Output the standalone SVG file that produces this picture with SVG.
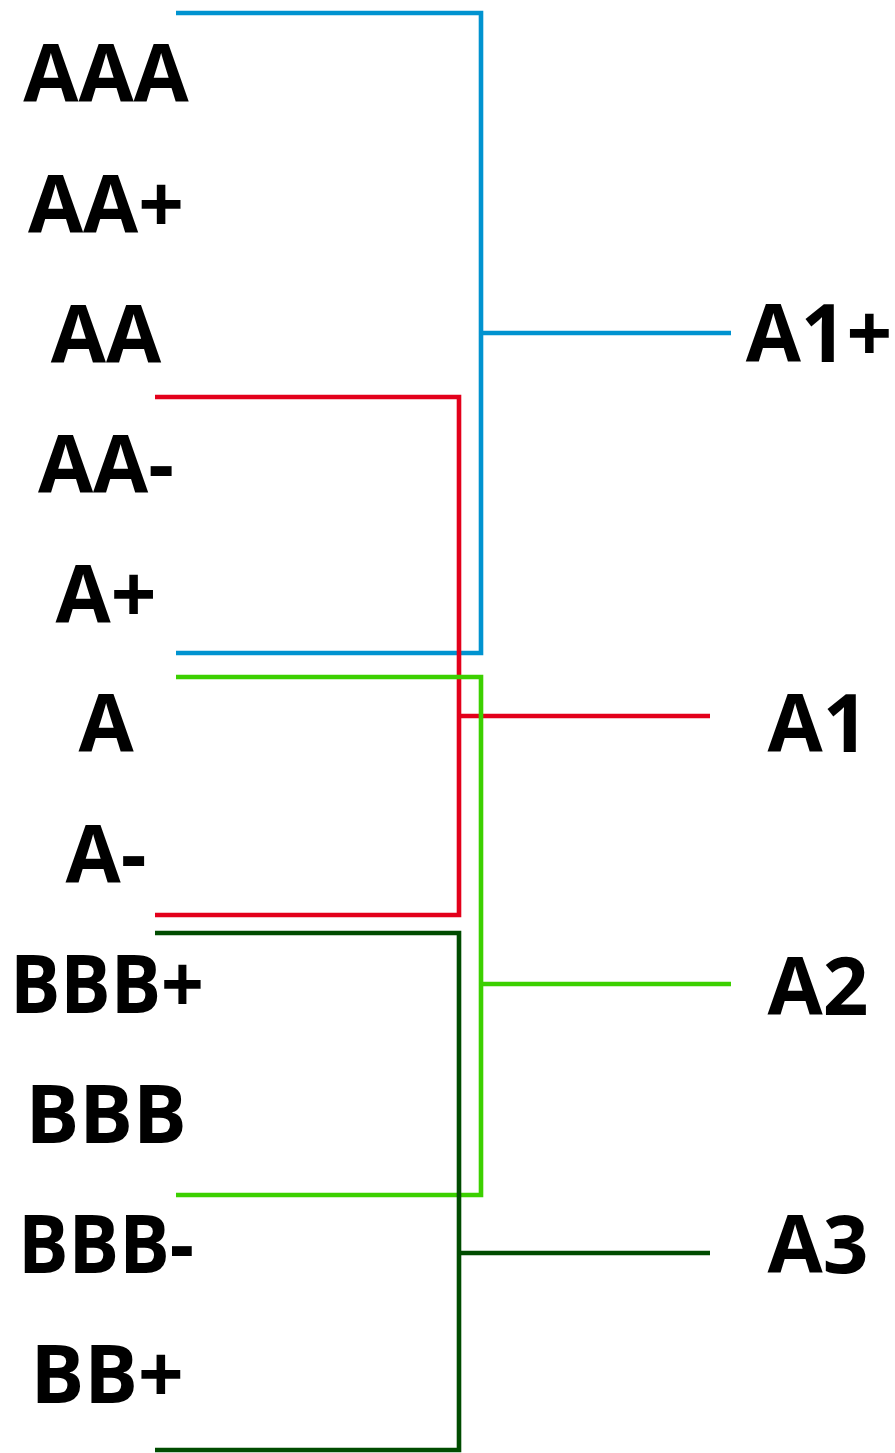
<svg xmlns="http://www.w3.org/2000/svg" width="895" height="1453" viewBox="0 0 895 1453">
  <style>
    .lbl { font-family: "Open Sans", "Liberation Sans", sans-serif; font-weight: bold; font-size: 80px; fill: #000; text-anchor: middle; }
    .wire { fill: none; stroke-width: 4.6; stroke-linejoin: miter; stroke-linecap: butt; }
    .blue { stroke: #0093d0; }
    .red { stroke: #e3001b; }
    .lime { stroke: #3cd000; }
    .dark { stroke: #004c00; }
  </style>
  <rect width="895" height="1453" fill="#fff"/>

  <!-- brackets grouping the long-term ratings -->
  <g id="connectors">
    <path class="wire blue" d="M176 13 H481 V653 H176 M481 333 H731"/>
    <path class="wire red" d="M155 397 H459 V915 H155 M459 716 H710"/>
    <path class="wire lime" d="M176 677 H481 V1195 H176 M481 984 H731"/>
    <path class="wire dark" d="M155 933 H459 V1450 H155 M459 1253 H710"/>
  </g>

  <!-- long-term ratings -->
  <g id="AAA"><text class="lbl" x="106" y="102">AAA</text></g>
  <g id="AAplus"><text class="lbl" x="106" y="233">AA+</text></g>
  <g id="AA"><text class="lbl" x="106" y="363">AA</text></g>
  <g id="AAminus"><text class="lbl" x="106" y="493">AA-</text></g>
  <g id="Aplus"><text class="lbl" x="106" y="623">A+</text></g>
  <g id="A"><text class="lbl" x="106" y="752">A</text></g>
  <g id="Aminus"><text class="lbl" x="106" y="883">A-</text></g>
  <g id="BBBplus"><text class="lbl" x="107" y="1013" textLength="194" lengthAdjust="spacingAndGlyphs">BBB+</text></g>
  <g id="BBB"><text class="lbl" x="106" y="1143">BBB</text></g>
  <g id="BBBminus"><text class="lbl" x="106" y="1273" textLength="176" lengthAdjust="spacingAndGlyphs">BBB-</text></g>
  <g id="BBplus"><text class="lbl" x="107" y="1403">BB+</text></g>

  <!-- short-term ratings -->
  <g id="A1plus"><text class="lbl" x="819" y="362">A1+</text></g>
  <g id="A1"><text class="lbl" x="818" y="752">A1</text></g>
  <g id="A2"><text class="lbl" x="818" y="1015">A2</text></g>
  <g id="A3"><text class="lbl" x="818" y="1273">A3</text></g>
</svg>
